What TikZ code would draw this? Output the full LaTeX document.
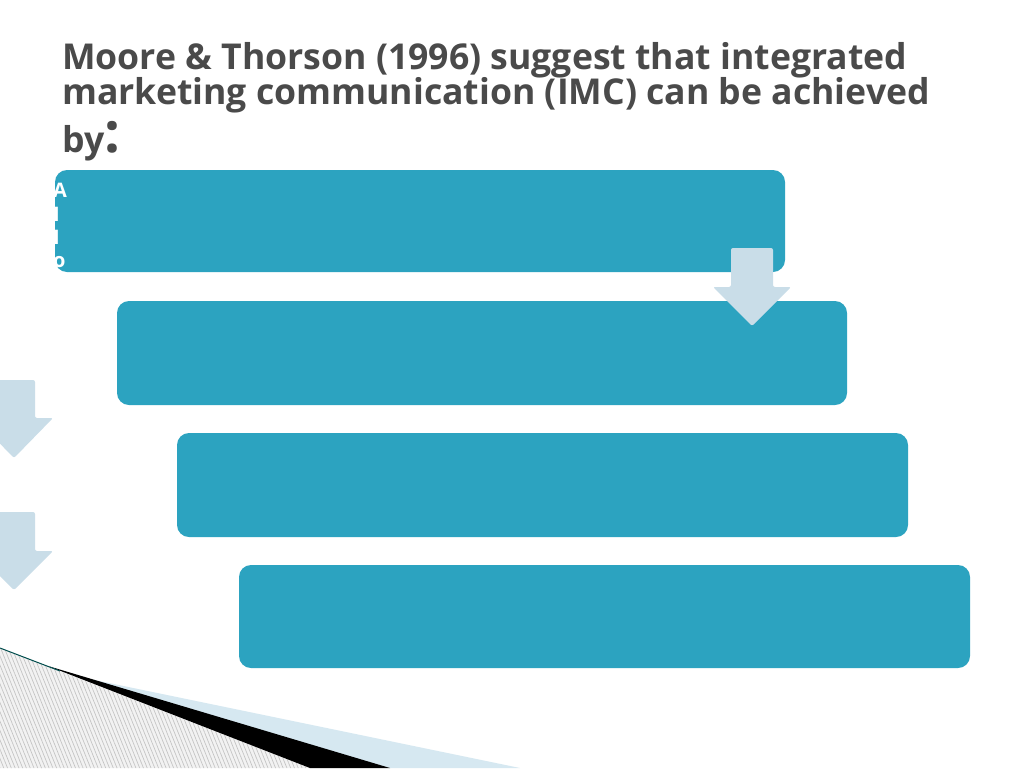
\documentclass[tikz,border=0pt]{standalone}
\usepackage{fontspec}
\setmainfont{Open Sans}
\usetikzlibrary{patterns.meta}
\definecolor{boxblue}{HTML}{2CA3C0}
\definecolor{arrowblue}{HTML}{C9DDE8}
\definecolor{wedgeblue}{HTML}{D6E8F1}
\definecolor{titlegray}{HTML}{4A4A4A}
\definecolor{hatchgray}{HTML}{C4C4C4}
\definecolor{hatchbg}{HTML}{F2F2F2}
\begin{document}
\begin{tikzpicture}[x=1pt,y=-1pt,
  stepbox/.style={fill=boxblue, draw=none, rounded corners=12pt, inner sep=0pt},
  downarrow/.style={fill=arrowblue, draw=none, rounded corners=2pt},
  titletext/.style={text=titlegray, font=\bfseries\fontsize{35.6}{34}\selectfont, anchor=base west, inner sep=0pt},
  boxletter/.style={text=white, font=\bfseries\fontsize{20}{20}\selectfont, anchor=west, inner sep=0pt}]
\useasboundingbox (0,0) rectangle (1024,768);
\fill[white] (0,0) rectangle (1024,768);
% title
\node[titletext] (t1) at (62,70) {Moore \& Thorson (1996) suggest that integrated};
\node[titletext] (t2) at (62,104) {marketing communication (IMC) can be achieved};
\node[titletext] (t3) at (62,152) {by\fontsize{56}{56}\selectfont:};
% boxes
\path[stepbox] (55,170) rectangle (785,272);
\coordinate (b1) at (420,221);
\path[stepbox] (117,301) rectangle (847,405);
\coordinate (b2) at (482,353);
\path[stepbox] (177,433) rectangle (908,537);
\coordinate (b3) at (542,485);
\path[stepbox] (239,565) rectangle (970,668);
\coordinate (b4) at (604,616);
% letters in first box
\node[boxletter] (la) at (53,190) {A};
\node[boxletter] (lb) at (53,214) {I};
\node[boxletter] (lc) at (53,237) {I};
\node[boxletter] (ld) at (53,262) {o};
% arrows
\path[downarrow] (731,248) -- (773,248) -- (773,287) -- (791,287) -- (752,326) -- (713,287) -- (731,287) -- cycle;
\path[downarrow] (-7,380) -- (35,380) -- (35,418) -- (53,418) -- (14,458) -- (-25,418) -- (-7,418) -- cycle;
\path[downarrow] (-7,512) -- (35,512) -- (35,551) -- (53,551) -- (14,590) -- (-25,551) -- (-7,551) -- cycle;
% decoration bottom left
\fill[hatchbg] (0,648) -- (310,768) -- (0,768) -- cycle;
\fill[pattern={Lines[angle=-68, distance=3.5pt, line width=0.7pt]}, pattern color=hatchgray] (0,648) -- (310,768) -- (0,768) -- cycle;
\fill[wedgeblue] (80,677) -- (520,768) -- (390,768) -- cycle;
\fill[black] (48,666) -- (390,768) -- (310,768) -- cycle;
\draw[teal!60!black, line width=1pt] (0,648) -- (60,671);
\end{tikzpicture}
\end{document}
